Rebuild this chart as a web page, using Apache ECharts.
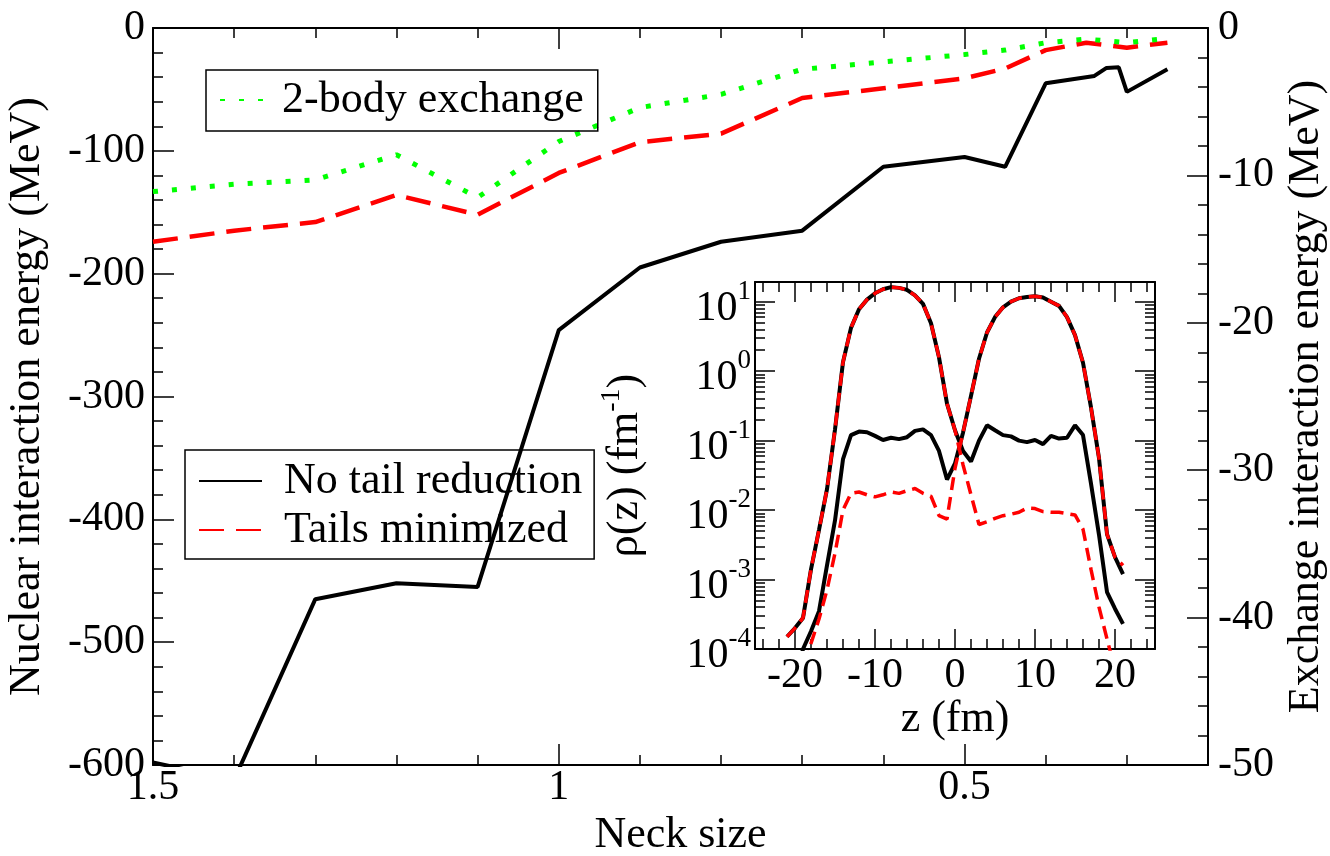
<!DOCTYPE html>
<html>
<head>
<meta charset="utf-8">
<title>Neck size</title>
<script src="https://cdn.jsdelivr.net/npm/echarts@6/dist/echarts.min.js"></script>
<style>
  html, body { margin: 0; padding: 0; background: #fff; }
  #chart { width: 1330px; height: 856px; }
</style>
</head>
<body>
<div id="chart"></div>
<script>
// ---- main panel: interaction energies vs neck size (x axis runs 1.5 -> 0.2)
const neckNoTail = [1.5, 1.4, 1.3, 1.2, 1.1, 1.0, 0.9, 0.8, 0.7, 0.6, 0.5, 0.45, 0.4, 0.34, 0.325, 0.31, 0.3, 0.25]
const nuclearNoTail = [-598, -612, -465, -452, -455, -246, -195, -174, -165, -113, -105, -113, -45, -39, -32.5, -32, -52, -33.5]
const neck = [1.5, 1.4, 1.3, 1.2, 1.1, 1.0, 0.9, 0.8, 0.7, 0.6, 0.5, 0.45, 0.4, 0.35, 0.3, 0.25]
const nuclearTailsMin = [-174, -165, -158, -136, -152, -118, -93, -86, -57, -49, -41, -33, -18, -12, -16, -12]
const exchange2body = [-11.1, -10.6, -10.3, -8.6, -11.5, -7.7, -5.4, -4.5, -2.8, -2.3, -1.8, -1.5, -1.0, -0.75, -1.0, -0.7] // right axis

const neckMajor = [0.5, 1.0, 1.5]
const neckMajorLabels = ['0.5', '1', '1.5']
const neckMinor = [0.3, 0.4, 0.6, 0.7, 0.8, 0.9, 1.1, 1.2, 1.3, 1.4]

// ---- inset: densities rho(z) of the two fragments, log scale
const zfm = [-21, -20, -19, -18, -17, -16, -15, -14, -13, -12, -11, -10, -9, -8, -7, -6, -5, -4, -3, -2, -1,
  0, 1, 2, 3, 4, 5, 6, 7, 8, 9, 10, 11, 12, 13, 14, 15, 16, 17, 18, 19, 20, 21]
const rhoLeftNoTail = [1.5e-4, 2.0e-4, 2.8e-4, 1.4e-3, 5.2e-3, 0.020, 0.145, 1.35, 4.2, 7.8, 10.7, 13.2, 15.1, 16.2, 15.8, 14.8, 12.3, 9.3, 4.9, 1.58, 0.34,
  0.141, 0.071, 0.050, 0.100, 0.166, 0.141, 0.120, 0.115, 0.100, 0.095, 0.102, 0.089, 0.117, 0.107, 0.110, 0.166, 0.120, 0.024, 0.0044, 6.6e-4, 3.8e-4, 2.3e-4]
const rhoRightNoTail = [null, 3.2e-5, 1.0e-4, 1.8e-4, 3.5e-4, 1.6e-3, 7.1e-3, 0.054, 0.120, 0.135, 0.132, 0.117, 0.102, 0.110, 0.105, 0.112, 0.138, 0.145, 0.120, 0.071, 0.0275,
  0.047, 0.13, 0.44, 1.51, 3.6, 6.0, 8.3, 10.0, 11.2, 11.7, 12.0, 11.5, 10.0, 8.7, 6.0, 3.3, 1.32, 0.30, 0.056, 0.0045, 0.0021, 0.0012]
const rhoLeftTailsMin = [1.5e-4, 2.0e-4, 2.8e-4, 1.4e-3, 5.2e-3, 0.020, 0.145, 1.35, 4.2, 7.8, 10.7, 13.2, 15.1, 16.2, 15.8, 14.8, 12.3, 9.3, 4.9, 1.58, 0.34,
  0.141, 0.045, 0.0166, 0.0062, 0.0068, 0.0076, 0.0083, 0.0087, 0.0093, 0.0107, 0.0105, 0.0095, 0.0093, 0.0093, 0.0089, 0.0085, 0.0053, 0.0014, 4.0e-4, 1.4e-4, 5e-5, null]
const rhoRightTailsMin = [null, null, 3.2e-5, 1.2e-4, 2.7e-4, 7.1e-4, 2.4e-3, 0.0100, 0.0174, 0.0182, 0.0166, 0.0155, 0.0166, 0.0182, 0.0174, 0.0190, 0.0204, 0.0174, 0.0158, 0.0083, 0.0074,
  0.040, 0.13, 0.44, 1.51, 3.6, 6.0, 8.3, 10.0, 11.2, 11.7, 12.0, 11.5, 10.0, 8.7, 6.0, 3.3, 1.32, 0.30, 0.056, 0.0045, 0.0021, 0.0016]

const zMajor = [-20, -10, 0, 10, 20]
const zMinor = [-24, -22, -18, -16, -14, -12, -8, -6, -4, -2, 2, 4, 6, 8, 12, 14, 16, 18, 22, 24]
const rhoMajor = [1e-4, 1e-3, 1e-2, 1e-1, 1, 10]
const rhoMajorExp = ['-4', '-3', '-2', '-1', '0', '1']

const font = "'Liberation Serif', 'Times New Roman', Times, 'DejaVu Serif', serif"
const black = '#000'

// minor log ticks 2..9 x 10^n
const rhoMinor = []
rhoMajor.forEach(d => {
  for (let m = 2; m <= 9; m++) {
    const v = d * m
    if (v < 19.2) rhoMinor.push(v)
  }
})

function pairs (xs, ys) {
  return xs.map((x, i) => [x, ys[i]])
}

function tickAxis (base, values, length, showLine) {
  return Object.assign({
    type: 'value',
    axisLine: { show: !!showLine, onZero: false, lineStyle: { color: black, width: 2 } },
    axisTick: { show: true, inside: true, length: length, customValues: values, lineStyle: { color: black, width: 1.5 } },
    axisLabel: { show: false },
    splitLine: { show: false },
    minorTick: { show: false },
    minorSplitLine: { show: false }
  }, base)
}

const chart = echarts.init(document.getElementById('chart'), null, { renderer: 'canvas' })

const neckX = { gridIndex: 0, min: 0.2, max: 1.5, inverse: true }
const zX = { gridIndex: 1, min: -25, max: 25 }
const rhoY = { gridIndex: 1, type: 'log', logBase: 10, min: 1e-4, max: 19.2 }

chart.setOption({
  animation: false,
  backgroundColor: '#fff',
  textStyle: { fontFamily: font, color: black },
  grid: [
    { left: 153, top: 28, right: 122, bottom: 91, outerBoundsMode: 'none', containLabel: false },
    { left: 755, top: 282, width: 400, height: 367, outerBoundsMode: 'none', containLabel: false }
  ],
  legend: [
    {
      left: 206,
      top: 70,
      orient: 'horizontal',
      data: ['2-body exchange'],
      borderColor: black,
      borderWidth: 1.5,
      borderRadius: 0,
      padding: [8, 14, 9, 13],
      itemWidth: 44,
      itemHeight: 6,
      itemStyle: { opacity: 0 },
      selectedMode: false,
      formatter: '{t|{name}}',
      textStyle: {
        fontFamily: font,
        rich: { t: { fontSize: 44, lineHeight: 44, fontFamily: font, color: black, padding: [0, 0, 0, 13] } }
      }
    },
    {
      left: 185,
      top: 450,
      orient: 'vertical',
      data: ['No tail reduction', 'Tails minimized'],
      borderColor: black,
      borderWidth: 1.5,
      borderRadius: 0,
      padding: [9, 12, 7, 13],
      itemGap: 5,
      itemWidth: 63,
      itemHeight: 6,
      itemStyle: { opacity: 0 },
      selectedMode: false,
      formatter: '{t|{name}}',
      textStyle: {
        fontFamily: font,
        rich: { t: { fontSize: 44, lineHeight: 36, fontFamily: font, color: black, padding: [0, 0, 0, 17] } }
      }
    }
  ],
  xAxis: [
    // 0: main bottom, major ticks + labels
    tickAxis(Object.assign({
      position: 'bottom',
      axisLabel: {
        show: true,
        customValues: neckMajor,
        formatter: v => neckMajorLabels[neckMajor.findIndex(t => Math.abs(t - v) < 1e-6)] || '',
        fontSize: 42,
        fontFamily: font,
        color: black,
        margin: 2
      },
      name: 'Neck size',
      nameLocation: 'middle',
      nameGap: 44,
      nameTextStyle: { fontSize: 44, fontFamily: font, color: black }
    }, neckX), neckMajor, 21, true),
    // 1: main bottom, minor ticks
    tickAxis(Object.assign({ position: 'bottom' }, neckX), neckMinor, 10, false),
    // 2, 3: main top mirror
    tickAxis(Object.assign({ position: 'top' }, neckX), neckMajor, 21, true),
    tickAxis(Object.assign({ position: 'top' }, neckX), neckMinor, 10, false),
    // 4: inset bottom major + labels
    tickAxis(Object.assign({
      position: 'bottom',
      axisLabel: {
        show: true,
        customValues: zMajor,
        fontSize: 42,
        fontFamily: font,
        color: black,
        margin: 6
      },
      name: 'z (fm)',
      nameLocation: 'middle',
      nameGap: 47,
      nameTextStyle: { fontSize: 44, fontFamily: font, color: black }
    }, zX), zMajor, 20, true),
    tickAxis(Object.assign({ position: 'bottom' }, zX), zMinor, 10, false),
    tickAxis(Object.assign({ position: 'top' }, zX), zMajor, 20, true),
    tickAxis(Object.assign({ position: 'top' }, zX), zMinor, 10, false)
  ],
  yAxis: [
    // 0: main left, nuclear interaction energy
    {
      type: 'value',
      gridIndex: 0,
      position: 'left',
      min: -600,
      max: 0,
      interval: 100,
      axisLine: { show: true, onZero: false, lineStyle: { color: black, width: 2 } },
      axisTick: { show: true, inside: true, length: 21, lineStyle: { color: black, width: 1.5 } },
      minorTick: { show: true, splitNumber: 5, length: 10, lineStyle: { color: black, width: 1.5 } },
      splitLine: { show: false },
      axisLabel: { fontSize: 42, fontFamily: font, color: black, margin: 8 },
      name: 'Nuclear interaction energy (MeV)',
      nameLocation: 'middle',
      nameGap: 104,
      nameTextStyle: { fontSize: 44, fontFamily: font, color: black }
    },
    // 1: main right, exchange interaction energy
    {
      type: 'value',
      gridIndex: 0,
      position: 'right',
      min: -50,
      max: 0,
      interval: 10,
      axisLine: { show: true, onZero: false, lineStyle: { color: black, width: 2 } },
      axisTick: { show: true, inside: true, length: 21, lineStyle: { color: black, width: 1.5 } },
      minorTick: { show: true, splitNumber: 5, length: 10, lineStyle: { color: black, width: 1.5 } },
      splitLine: { show: false },
      axisLabel: { fontSize: 42, fontFamily: font, color: black, margin: 10 },
      name: 'Exchange interaction energy (MeV)',
      nameLocation: 'middle',
      nameGap: 76,
      nameTextStyle: { fontSize: 44, fontFamily: font, color: black }
    },
    // 2: inset left, log major + labels
    tickAxis(Object.assign({
      position: 'left',
      axisLabel: {
        show: true,
        customValues: rhoMajor,
        formatter: v => {
          const i = rhoMajor.findIndex(t => Math.abs(t - v) / t < 1e-6)
          return i < 0 ? '' : '{b|10}{s|' + rhoMajorExp[i] + '}'
        },
        margin: 4,
        rich: {
          b: { fontSize: 42, lineHeight: 42, fontFamily: font, color: black, padding: [14, 0, 0, 0] },
          s: { fontSize: 27, lineHeight: 27, fontFamily: font, color: black, padding: [0, 0, 20, 0] }
        }
      },
      name: '{a|ρ(z) (fm}{s|-1}{a|)}',
      nameLocation: 'middle',
      nameGap: 108,
      nameTextStyle: {
        fontFamily: font,
        rich: {
          a: { fontSize: 44, lineHeight: 44, fontFamily: font, color: black },
          s: { fontSize: 28, lineHeight: 28, fontFamily: font, color: black, padding: [0, 0, 26, 0] }
        }
      }
    }, rhoY), rhoMajor, 20, true),
    tickAxis(Object.assign({ position: 'left' }, rhoY), rhoMinor, 10, false),
    tickAxis(Object.assign({ position: 'right' }, rhoY), rhoMajor, 20, true),
    tickAxis(Object.assign({ position: 'right' }, rhoY), rhoMinor, 10, false)
  ],
  series: [
    {
      name: 'No tail reduction',
      type: 'line',
      xAxisIndex: 0,
      yAxisIndex: 0,
      symbol: 'none',
      lineStyle: { color: black, width: 4 },
      itemStyle: { color: black },
      data: pairs(neckNoTail, nuclearNoTail)
    },
    {
      name: 'Tails minimized',
      type: 'line',
      xAxisIndex: 0,
      yAxisIndex: 0,
      symbol: 'none',
      lineStyle: { color: '#ff0000', width: 4.5, type: [25, 12] },
      itemStyle: { color: '#ff0000' },
      data: pairs(neck, nuclearTailsMin)
    },
    {
      name: '2-body exchange',
      type: 'line',
      xAxisIndex: 0,
      yAxisIndex: 1,
      symbol: 'none',
      lineStyle: { color: '#00ff00', width: 5, type: [5, 14] },
      itemStyle: { color: '#00ff00' },
      data: pairs(neck, exchange2body)
    },
    // inset
    {
      name: 'rho left, no tail reduction',
      type: 'line',
      xAxisIndex: 4,
      yAxisIndex: 2,
      symbol: 'none',
      lineStyle: { color: black, width: 4 },
      data: pairs(zfm, rhoLeftNoTail)
    },
    {
      name: 'rho right, no tail reduction',
      type: 'line',
      xAxisIndex: 4,
      yAxisIndex: 2,
      symbol: 'none',
      lineStyle: { color: black, width: 4 },
      data: pairs(zfm, rhoRightNoTail)
    },
    {
      name: 'rho left, tails minimized',
      type: 'line',
      xAxisIndex: 4,
      yAxisIndex: 2,
      symbol: 'none',
      lineStyle: { color: '#ff0000', width: 3.5, type: [13, 7] },
      data: pairs(zfm, rhoLeftTailsMin)
    },
    {
      name: 'rho right, tails minimized',
      type: 'line',
      xAxisIndex: 4,
      yAxisIndex: 2,
      symbol: 'none',
      lineStyle: { color: '#ff0000', width: 3.5, type: [13, 7] },
      data: pairs(zfm, rhoRightTailsMin)
    }
  ]
})
</script>
</body>
</html>
